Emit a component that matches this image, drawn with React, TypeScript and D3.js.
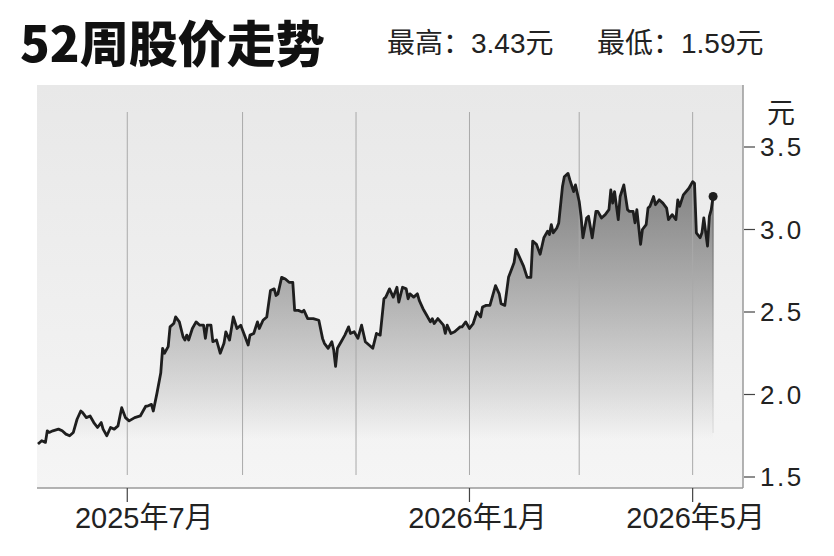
import React, { useEffect, useRef } from "react";
import * as d3 from "d3";

// 52-week closing prices
const dates: string[] = [
  "2025-05-14", "2025-05-16", "2025-05-18", "2025-05-19", "2025-05-20", "2025-05-22", "2025-05-25", "2025-05-27", "2025-05-29", "2025-05-31",
  "2025-06-02", "2025-06-04", "2025-06-06", "2025-06-07", "2025-06-09", "2025-06-11", "2025-06-13", "2025-06-15", "2025-06-17", "2025-06-18",
  "2025-06-20", "2025-06-22", "2025-06-24", "2025-06-26", "2025-06-28", "2025-06-30", "2025-07-02", "2025-07-05", "2025-07-08", "2025-07-11",
  "2025-07-12", "2025-07-14", "2025-07-15", "2025-07-17", "2025-07-19", "2025-07-20", "2025-07-21", "2025-07-23", "2025-07-24", "2025-07-26",
  "2025-07-27", "2025-07-29", "2025-07-31", "2025-08-01", "2025-08-02", "2025-08-03", "2025-08-05", "2025-08-07", "2025-08-09", "2025-08-11",
  "2025-08-12", "2025-08-13", "2025-08-15", "2025-08-16", "2025-08-18", "2025-08-19", "2025-08-20", "2025-08-22", "2025-08-23", "2025-08-25",
  "2025-08-27", "2025-08-29", "2025-08-31", "2025-09-02", "2025-09-04", "2025-09-05", "2025-09-07", "2025-09-09", "2025-09-10", "2025-09-12",
  "2025-09-14", "2025-09-16", "2025-09-18", "2025-09-19", "2025-09-20", "2025-09-22", "2025-09-24", "2025-09-26", "2025-09-28", "2025-09-29",
  "2025-10-01", "2025-10-03", "2025-10-04", "2025-10-06", "2025-10-09", "2025-10-12", "2025-10-14", "2025-10-15", "2025-10-17", "2025-10-19",
  "2025-10-20", "2025-10-21", "2025-10-22", "2025-10-24", "2025-10-26", "2025-10-28", "2025-10-29", "2025-10-31", "2025-11-02", "2025-11-04",
  "2025-11-06", "2025-11-08", "2025-11-10", "2025-11-12", "2025-11-14", "2025-11-16", "2025-11-17", "2025-11-19", "2025-11-21", "2025-11-23",
  "2025-11-24", "2025-11-26", "2025-11-28", "2025-11-29", "2025-11-30", "2025-12-02", "2025-12-04", "2025-12-05", "2025-12-07", "2025-12-09",
  "2025-12-11", "2025-12-12", "2025-12-13", "2025-12-15", "2025-12-18", "2025-12-19", "2025-12-20", "2025-12-22", "2025-12-24", "2025-12-27",
  "2025-12-28", "2025-12-30", "2026-01-01", "2026-01-03", "2026-01-05", "2026-01-07", "2026-01-08", "2026-01-10", "2026-01-12", "2026-01-15",
  "2026-01-17", "2026-01-18", "2026-01-20", "2026-01-22", "2026-01-24", "2026-01-25", "2026-01-26", "2026-01-28", "2026-01-30", "2026-02-01",
  "2026-02-03", "2026-02-04", "2026-02-06", "2026-02-08", "2026-02-10", "2026-02-12", "2026-02-13", "2026-02-14", "2026-02-15", "2026-02-17",
  "2026-02-18", "2026-02-20", "2026-02-21", "2026-02-23", "2026-02-24", "2026-02-26", "2026-02-27", "2026-03-01", "2026-03-02", "2026-03-03",
  "2026-03-05", "2026-03-06", "2026-03-08", "2026-03-10", "2026-03-11", "2026-03-13", "2026-03-15", "2026-03-17", "2026-03-18", "2026-03-19",
  "2026-03-20", "2026-03-22", "2026-03-23", "2026-03-25", "2026-03-27", "2026-03-28", "2026-03-30", "2026-03-31", "2026-04-01", "2026-04-03",
  "2026-04-04", "2026-04-06", "2026-04-07", "2026-04-08", "2026-04-10", "2026-04-11", "2026-04-13", "2026-04-15", "2026-04-17", "2026-04-18",
  "2026-04-20", "2026-04-22", "2026-04-23", "2026-04-24", "2026-04-26", "2026-04-29", "2026-05-01", "2026-05-02", "2026-05-03", "2026-05-05",
  "2026-05-06", "2026-05-07", "2026-05-09", "2026-05-10", "2026-05-11", "2026-05-12",
];

const prices: number[] = [
  1.7, 1.72, 1.71, 1.78, 1.77, 1.78, 1.79, 1.78, 1.76, 1.75,
  1.77, 1.85, 1.9, 1.89, 1.86, 1.87, 1.83, 1.8, 1.83, 1.79,
  1.75, 1.8, 1.79, 1.81, 1.92, 1.86, 1.84, 1.86, 1.87, 1.93,
  1.93, 1.94, 1.9, 2.01, 2.13, 2.28, 2.25, 2.29, 2.41, 2.43,
  2.47, 2.44, 2.35, 2.33, 2.36, 2.33, 2.4, 2.44, 2.42, 2.42,
  2.34, 2.42, 2.42, 2.32, 2.33, 2.29, 2.25, 2.31, 2.38, 2.33,
  2.47, 2.4, 2.42, 2.36, 2.3, 2.36, 2.37, 2.44, 2.4, 2.45,
  2.47, 2.63, 2.64, 2.6, 2.61, 2.71, 2.7, 2.68, 2.68, 2.51,
  2.51, 2.5, 2.51, 2.46, 2.46, 2.45, 2.34, 2.31, 2.28, 2.32,
  2.27, 2.17, 2.28, 2.32, 2.36, 2.41, 2.37, 2.38, 2.34, 2.42,
  2.32, 2.3, 2.28, 2.37, 2.36, 2.58, 2.59, 2.64, 2.59, 2.65,
  2.56, 2.65, 2.64, 2.58, 2.61, 2.59, 2.61, 2.57, 2.52, 2.48,
  2.44, 2.46, 2.43, 2.46, 2.42, 2.37, 2.42, 2.37, 2.38, 2.41,
  2.41, 2.44, 2.4, 2.43, 2.5, 2.47, 2.53, 2.54, 2.54, 2.66,
  2.61, 2.55, 2.54, 2.71, 2.77, 2.8, 2.88, 2.83, 2.78, 2.71,
  2.71, 2.93, 2.91, 2.85, 2.95, 2.99, 2.97, 3.03, 2.98, 3.01,
  3.04, 3.26, 3.32, 3.34, 3.3, 3.23, 3.27, 3.17, 3.08, 2.95,
  3.07, 3.08, 2.95, 3.11, 3.11, 3.07, 3.09, 3.12, 3.24, 3.16,
  3.23, 3.06, 3.2, 3.27, 3.12, 3.11, 3.11, 3.04, 3.12, 2.91,
  3.0, 3.03, 3.13, 3.14, 3.2, 3.15, 3.18, 3.16, 3.13, 3.06,
  3.09, 3.06, 3.18, 3.14, 3.21, 3.25, 3.29, 3.28, 2.98, 2.95,
  2.98, 3.07, 2.9, 3.08, 3.12, 3.2,
];

const yTicks = [1.5, 2.0, 2.5, 3.0, 3.5];
const xTickDates = ["2025-07-01", "2026-01-01", "2026-05-01"];
const xTickLabels = ["2025年7月", "2026年1月", "2026年5月"];
const titleText = "52周股价走势";
const high52 = 3.43;
const low52 = 1.59;
const unit = "元";
const domainStart = "2025-05-14";
const domainEnd = "2026-05-27";

const width = 834;
const height = 556;
const plot = { left: 37, right: 743, top: 85, bottom: 488 };
const SANS = "'Liberation Sans', 'Noto Sans CJK SC', sans-serif";

const App: React.FC = () => {
  const svgRef = useRef<SVGSVGElement | null>(null);

  useEffect(() => {
    if (!svgRef.current) return;
    const svg = d3.select(svgRef.current);
    svg.selectAll("*").remove();

    const parse = d3.timeParse("%Y-%m-%d");
    const data = dates.map((d, i) => ({ date: parse(d) as Date, value: prices[i] }));

    const x = d3
      .scaleTime()
      .domain([parse(domainStart) as Date, parse(domainEnd) as Date])
      .range([38, 741]);
    const y = d3.scaleLinear().domain([1.5, 3.5]).range([477, 147]);

    const defs = svg.append("defs");

    const bgGrad = defs
      .append("linearGradient")
      .attr("id", "bgGrad")
      .attr("x1", 0)
      .attr("y1", 0)
      .attr("x2", 0)
      .attr("y2", 1);
    bgGrad.append("stop").attr("offset", 0).attr("stop-color", "#e8e8e8");
    bgGrad.append("stop").attr("offset", 1).attr("stop-color", "#f5f5f5");

    const areaGrad = defs
      .append("linearGradient")
      .attr("id", "areaGrad")
      .attr("gradientUnits", "userSpaceOnUse")
      .attr("x1", 0)
      .attr("y1", 170)
      .attr("x2", 0)
      .attr("y2", 440);
    [
      [0, 0.74],
      [0.48, 0.4],
      [0.83, 0.14],
      [1, 0],
    ].forEach(([o, a]) =>
      areaGrad
        .append("stop")
        .attr("offset", o)
        .attr("stop-color", "#585858")
        .attr("stop-opacity", a)
    );

    const edgeGrad = defs
      .append("linearGradient")
      .attr("id", "edgeGrad")
      .attr("gradientUnits", "userSpaceOnUse")
      .attr("x1", 0)
      .attr("y1", 190)
      .attr("x2", 0)
      .attr("y2", 435);
    edgeGrad.append("stop").attr("offset", 0).attr("stop-color", "#555").attr("stop-opacity", 0.9);
    edgeGrad.append("stop").attr("offset", 1).attr("stop-color", "#999").attr("stop-opacity", 0.2);

    svg.append("rect").attr("width", width).attr("height", height).attr("fill", "#fff");

    // title + 52 week high / low
    svg
      .append("text")
      .attr("x", 20)
      .attr("y", 62)
      .attr("font-family", "'Noto Sans CJK SC', sans-serif")
      .attr("font-weight", 900)
      .attr("font-size", 49)
      .attr("fill", "#111")
      .text(titleText);

    svg
      .append("text")
      .attr("x", 387)
      .attr("y", 53)
      .attr("font-family", SANS)
      .attr("font-size", 28)
      .attr("fill", "#222")
      .text(`最高：${high52.toFixed(2)}${unit}`);

    svg
      .append("text")
      .attr("x", 597)
      .attr("y", 53)
      .attr("font-family", SANS)
      .attr("font-size", 28)
      .attr("fill", "#222")
      .text(`最低：${low52.toFixed(2)}${unit}`);

    // plot background
    svg
      .append("rect")
      .attr("x", plot.left)
      .attr("y", plot.top)
      .attr("width", plot.right - plot.left)
      .attr("height", plot.bottom - plot.top)
      .attr("fill", "url(#bgGrad)");

    // area under line
    const area = d3
      .area<{ date: Date; value: number }>()
      .x((d) => x(d.date))
      .y0(plot.bottom)
      .y1((d) => y(d.value));
    svg.append("path").datum(data).attr("d", area).attr("fill", "url(#areaGrad)");

    const last = data[data.length - 1];
    svg
      .append("line")
      .attr("x1", x(last.date))
      .attr("x2", x(last.date))
      .attr("y1", y(last.value))
      .attr("y2", 433)
      .attr("stroke", "url(#edgeGrad)")
      .attr("stroke-width", 1.2);

    // vertical grid every two months
    const grid = x.ticks(d3.timeMonth.every(2) as d3.TimeInterval);
    svg
      .append("g")
      .selectAll("line")
      .data(grid)
      .join("line")
      .attr("x1", (d) => x(d))
      .attr("x2", (d) => x(d))
      .attr("y1", 112)
      .attr("y2", 475)
      .attr("stroke", "#a9a9a9")
      .attr("stroke-width", 1);

    // price line
    const line = d3
      .line<{ date: Date; value: number }>()
      .x((d) => x(d.date))
      .y((d) => y(d.value));
    svg
      .append("path")
      .datum(data)
      .attr("d", line)
      .attr("fill", "none")
      .attr("stroke", "#1e1e1e")
      .attr("stroke-width", 2.8)
      .attr("stroke-linejoin", "round");

    svg
      .append("circle")
      .attr("cx", x(last.date))
      .attr("cy", y(last.value))
      .attr("r", 4.5)
      .attr("fill", "#1e1e1e");

    // axis frame lines
    svg
      .append("line")
      .attr("x1", plot.left)
      .attr("x2", plot.right)
      .attr("y1", plot.bottom)
      .attr("y2", plot.bottom)
      .attr("stroke", "#9a9a9a")
      .attr("stroke-width", 1.5);
    svg
      .append("line")
      .attr("x1", plot.right)
      .attr("x2", plot.right)
      .attr("y1", plot.top)
      .attr("y2", plot.bottom)
      .attr("stroke", "#9a9a9a")
      .attr("stroke-width", 1.5);

    // right y axis
    const yAxis = svg.append("g");
    yAxis
      .selectAll("line")
      .data(yTicks)
      .join("line")
      .attr("x1", plot.right + 1)
      .attr("x2", plot.right + 12)
      .attr("y1", (d) => y(d))
      .attr("y2", (d) => y(d))
      .attr("stroke", "#444")
      .attr("stroke-width", 1.2);
    yAxis
      .selectAll("text")
      .data(yTicks)
      .join("text")
      .attr("x", 760)
      .attr("y", (d) => y(d))
      .attr("dy", "0.36em")
      .attr("font-family", SANS)
      .attr("font-size", 26)
      .attr("letter-spacing", 2.5)
      .attr("fill", "#222")
      .text((d) => d3.format(".1f")(d));
    svg
      .append("text")
      .attr("x", 767)
      .attr("y", 123)
      .attr("font-family", SANS)
      .attr("font-size", 28)
      .attr("fill", "#222")
      .text(unit);

    // bottom x axis
    const labelNudge = [17, 8, 3];
    const xAxis = svg.append("g");
    xAxis
      .selectAll("line")
      .data(xTickDates)
      .join("line")
      .attr("x1", (d) => x(parse(d) as Date))
      .attr("x2", (d) => x(parse(d) as Date))
      .attr("y1", plot.bottom)
      .attr("y2", plot.bottom + 14)
      .attr("stroke", "#444")
      .attr("stroke-width", 1.2);
    xAxis
      .selectAll("text")
      .data(xTickDates)
      .join("text")
      .attr("x", (d, i) => x(parse(d) as Date) + labelNudge[i])
      .attr("y", 528)
      .attr("text-anchor", "middle")
      .attr("font-family", SANS)
      .attr("font-size", 29)
      .attr("fill", "#222")
      .text((d, i) => xTickLabels[i]);
  }, []);

  return (
    <svg
      ref={svgRef}
      width={width}
      height={height}
      style={{ position: "absolute", left: 0, top: 0, display: "block" }}
    />
  );
};

export default App;
